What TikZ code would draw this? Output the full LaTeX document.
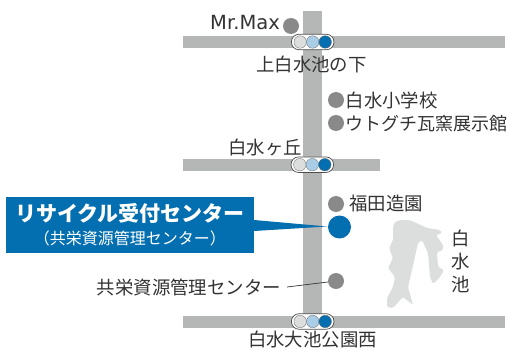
\documentclass[tikz,border=0pt]{standalone}
\usepackage{fontspec}
\setmainfont{Noto Sans CJK JP}
\newfontfamily\latin{DejaVu Sans}
\definecolor{road}{HTML}{B5B6B6}
\definecolor{spot}{HTML}{898989}
\definecolor{blue}{HTML}{036EB0}
\definecolor{lblue}{HTML}{A9CDE6}
\definecolor{lgray}{HTML}{DCDDDD}
\tikzset{
  roadbar/.style={fill=road,draw=none},
  spotdot/.style={circle,fill=spot,minimum size=16pt,inner sep=0,draw=none},
  lab/.style={inner sep=0,font=\fontsize{18.4pt}{19pt}\selectfont,text=black!80},
  sighou/.style={rounded corners=7.5pt,draw=black!70,fill=white,line width=.7pt,minimum width=42.5pt,minimum height=15.5pt,inner sep=0},
  lamp/.style={circle,minimum size=12.5pt,inner sep=0,draw=black!60,line width=.3pt},
}
\newcommand{\signal}[3]{%
  \node[sighou] (#1) at (#2,#3) {};
  \node[lamp,fill=lgray] (#1a) at (#2-12.5,#3) {};
  \node[lamp,fill=lblue] (#1b) at (#2,#3) {};
  \node[lamp,fill=blue] (#1c) at (#2+12.5,#3) {};
}
\begin{document}
\begin{tikzpicture}[x=1pt,y=-1pt]
\useasboundingbox (0,0) rectangle (509,350);
\fill[white] (0,0) rectangle (509,350);
\fill[roadbar] (303.3,11) rectangle (321.7,328);
\fill[roadbar] (183,35.7) rectangle (505,47.7);
\fill[roadbar] (183,159) rectangle (380,171);
\fill[roadbar] (183,316) rectangle (505,328);
\signal{s1}{312.7}{42}
\signal{s2}{312.3}{164.7}
\signal{s3}{312.7}{321.5}
\node[spotdot] (d1) at (291,26) {};
\node[spotdot] (d2) at (336,100) {};
\node[spotdot] (d3) at (336,123) {};
\node[spotdot] (d4) at (336,204) {};
\node[spotdot] (d5) at (336,281) {};
\node[circle,fill=blue,minimum size=23pt,inner sep=0] (dm) at (339.5,227) {};
\node[lab,anchor=east,font=\fontsize{19.5pt}{20pt}\selectfont] (t1) at (280,23) {\latin Mr.Max};
\node[lab] (t2) at (311.5,64) {上白水池の下};
\node[lab,anchor=west] (t3) at (345.5,100) {白水小学校};
\node[lab,anchor=west,font=\fontsize{18pt}{19pt}\selectfont] (t4) at (345.5,124) {ウトグチ瓦窯展示館};
\node[lab] (t5) at (265,147) {白水ヶ丘};
\node[lab,anchor=west] (t6) at (349,204) {福田造園};
\node[lab,anchor=east] (t7) at (281,287) {共栄資源管理センター};
\node[lab] (t8) at (312.5,340) {白水大池公園西};
\node[lab,align=center,font=\fontsize{18.4pt}{23pt}\selectfont] (t9) at (460.5,261.5) {白\\水\\池};
\coordinate (lead) at (287,287);
\draw[black!80,line width=.7pt] (lead) -- (d5);
\fill[lgray,rounded corners=1.5pt] (395,222) .. controls (402,219) and (408,220) .. (412,221) -- (427,228) -- (440,230) -- (442,233) -- (436,235) -- (443,245) -- (443,250) -- (437,252) -- (438,267) -- (444,270) -- (440,277) -- (433,284) -- (430,277) -- (428,253) -- (422,240) -- (418,243) -- (412,270) -- (408,287) -- (413,305) -- (403,297) -- (393,308) -- (387,307) -- (387,298) -- (393,287) -- (395,277) -- (388,268) -- (393,258) -- (389,248) -- (393,240) -- (393,227) -- cycle;
\coordinate (tip) at (327,226.5);
\fill[blue] (254,220) -- (tip) -- (254,231) -- cycle;
\node[fill=blue,minimum width=248pt,minimum height=56pt,inner sep=0,anchor=north west] (box) at (6,197) {};
\node[inner sep=0,text=white,font=\fontsize{21pt}{22pt}\selectfont\bfseries] (bt) at (130,213) {リサイクル受付センター};
\node[inner sep=0,text=white,font=\fontsize{16pt}{17pt}\selectfont] (bs) at (130,238) {（共栄資源管理センター）};
\end{tikzpicture}
\end{document}
